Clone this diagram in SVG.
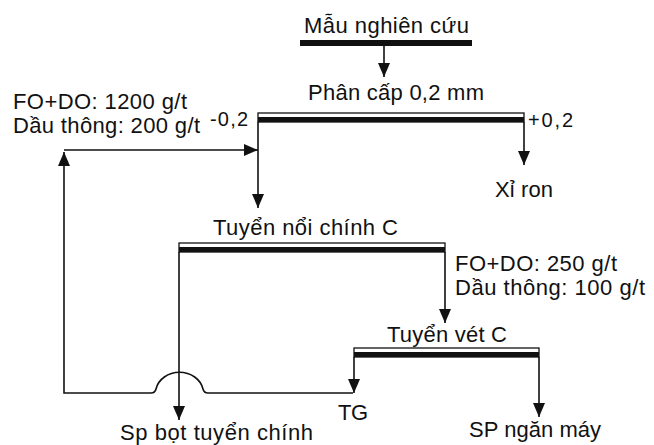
<svg xmlns="http://www.w3.org/2000/svg" width="654" height="445" viewBox="0 0 654 445">
<defs>
<marker id="arr" viewBox="0 0 14 12" refX="14" refY="6" markerWidth="14" markerHeight="12" markerUnits="userSpaceOnUse" orient="auto">
<path d="M0,0 L14,6 L0,12 z" fill="#111"/>
</marker>
<style>
text{font-family:"Liberation Sans",Arial,sans-serif;font-size:22px;fill:#111}
.sm{font-size:20px}
.ln{fill:none;stroke:#111;stroke-width:1.6}
.ar{marker-end:url(#arr)}
.frame{fill:none;stroke:#111;stroke-width:1.3}
.bar{fill:#111}
</style>
</defs>
<rect width="654" height="445" fill="#fff"/>

<g id="mau">
<rect class="bar" x="300" y="40" width="172" height="6"/>
<text x="304" y="33" textLength="165">Mẫu nghiên cứu</text>
</g>

<g id="phancap">
<rect class="frame" x="258" y="113" width="266" height="9"/>
<rect class="bar" x="258" y="117" width="266" height="5"/>
<text x="308" y="100" textLength="176">Phân cấp 0,2 mm</text>
<text class="sm" x="210" y="126" textLength="38">-0,2</text>
<text class="sm" x="528" y="127" textLength="45">+0,2</text>
</g>

<g id="reagent1">
<text x="13" y="109" textLength="174">FO+DO: 1200 g/t</text>
<text x="13" y="133" textLength="187">Dầu thông: 200 g/t</text>
</g>

<g id="xiron">
<text x="495" y="197" textLength="58">Xỉ ron</text>
</g>

<g id="tuyennoichinh">
<rect class="frame" x="179" y="243" width="266" height="9"/>
<rect class="bar" x="179" y="247" width="266" height="5"/>
<text x="213" y="235" textLength="185">Tuyển nổi chính C</text>
</g>

<g id="reagent2">
<text x="455" y="271" textLength="162">FO+DO: 250 g/t</text>
<text x="455" y="295" textLength="190">Dầu thông: 100 g/t</text>
</g>

<g id="tuyenvet">
<rect class="frame" x="354" y="348" width="185" height="9"/>
<rect class="bar" x="354" y="352" width="185" height="5"/>
<text x="387" y="342" textLength="120">Tuyển vét C</text>
</g>

<g id="tg">
<text x="338" y="420" textLength="30">TG</text>
</g>

<g id="spbot">
<text x="120" y="440" textLength="193">Sp bọt tuyển chính</text>
</g>

<g id="spngan">
<text x="469" y="437" textLength="132">SP ngăn máy</text>
</g>

<g id="connectors">
<path class="ln ar" d="M384,46 V77"/>
<path class="ln ar" d="M258,122 V208"/>
<path class="ln ar" d="M524,122 V165"/>
<path class="ln ar" d="M64,150 H258"/>
<path class="ln ar" d="M353,393 H208 Q204,393 203,389 A24,21 0 0 0 156,389 Q155,393 151,393 H64 V152"/>
<path class="ln ar" d="M179,252 V420"/>
<path class="ln ar" d="M445,252 V323"/>
<path class="ln ar" d="M354,357 V393"/>
<path class="ln ar" d="M539,357 V417"/>
</g>
</svg>
